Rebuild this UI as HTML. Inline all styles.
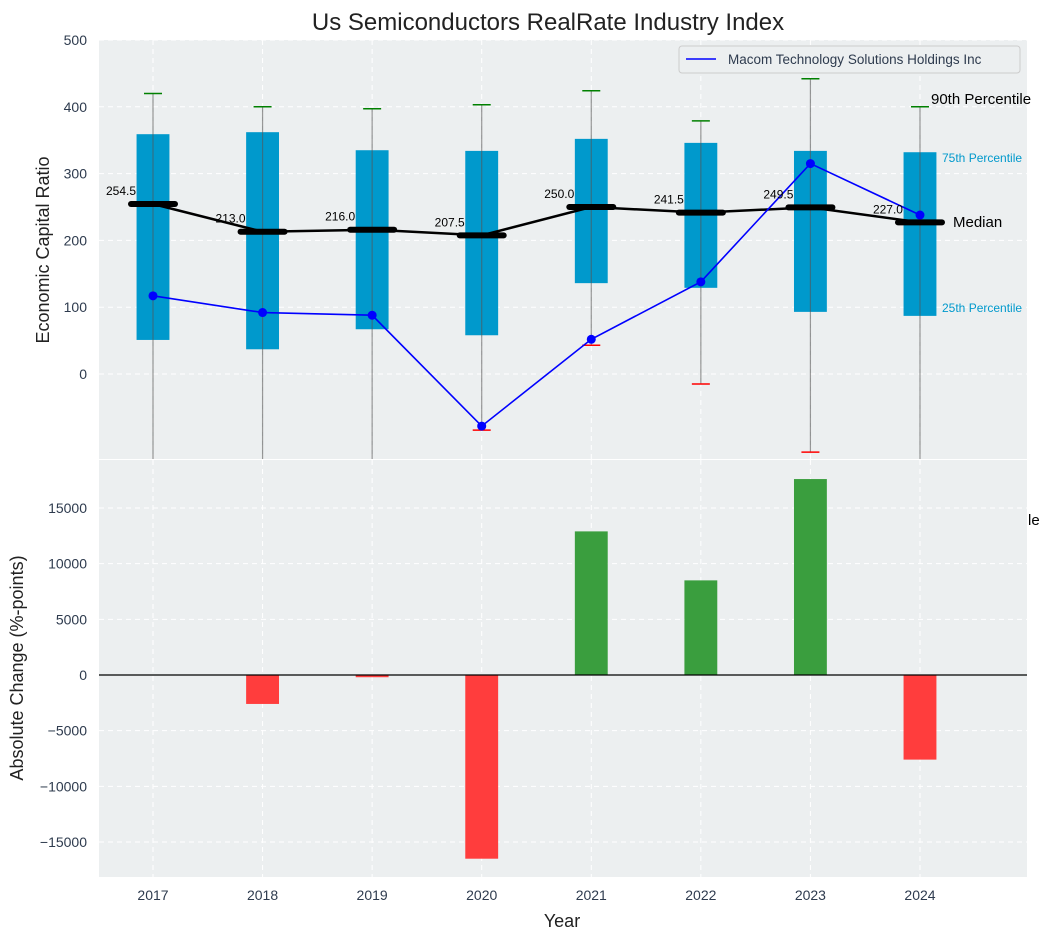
<!DOCTYPE html>
<html><head><meta charset="utf-8"><style>
body{margin:0;background:#fff;font-family:"Liberation Sans","DejaVu Sans",sans-serif}
</style></head><body>
<svg id="c" width="1051" height="940" xmlns="http://www.w3.org/2000/svg" font-family="Liberation Sans, DejaVu Sans, sans-serif"></svg>
<script>
const years=[2017,2018,2019,2020,2021,2022,2023,2024];
const q1=[51,37,67,58,136,129,93,87];
const q3=[359,362,335,334,352,346,334,332];
const medians=[254.5,213.0,216.0,207.5,250.0,241.5,249.5,227.0];
const p90=[420,400,397,403,424,379,442,400];
const p10=[-200,-200,-200,-84,43,-15,-117,-200];
const macom=[117,92,88,-78,52,138,315,238];
const changes=[0,-2600,-200,-16500,12900,8500,17600,-7600];
const topTicks=[0,100,200,300,400,500];
const botTicks=[-15000,-10000,-5000,0,5000,10000,15000];

const NS="http://www.w3.org/2000/svg";
const svg=document.getElementById('c');
function mk(t,a,txt){const e=document.createElementNS(NS,t);for(const k in a)e.setAttribute(k,a[k]);if(txt!==undefined)e.textContent=txt;svg.appendChild(e);return e;}
const L=99,R=1027;
const x=v=>153+(v-2017)*109.57;
const T0=40,T1=459; const yt=v=>374-v*0.668;
const B0=460,B1=877; const yb=v=>675-v*167/15000;
const pxw=x(2017.15)-x(2017);
const fmt=t=>t<0?'\u2212'+(-t):''+t;

let e;
e=mk('rect',{x:L,y:T0,width:R-L,height:T1-T0,fill:'#eceff0'});

e=mk('rect',{x:L,y:B0,width:R-L,height:B1-B0,fill:'#eceff0'});


topTicks.forEach(t=>{const y=yt(t);
 e=mk('line',{x1:L,x2:R,y1:y,y2:y,stroke:'#fff','stroke-dasharray':'5,4','stroke-width':1});
 
 e=mk('text',{x:87,y:y+5,'text-anchor':'end','font-size':14,fill:'#2e3b4e'},fmt(t));
 });
botTicks.forEach(t=>{const y=yb(t);
 e=mk('line',{x1:L,x2:R,y1:y,y2:y,stroke:'#fff','stroke-dasharray':'5,4','stroke-width':1});
 
 e=mk('text',{x:87,y:y+5,'text-anchor':'end','font-size':14,fill:'#2e3b4e'},fmt(t));
 });
years.forEach(yr=>{
 e=mk('line',{x1:x(yr),x2:x(yr),y1:T0,y2:T1,stroke:'#fff','stroke-dasharray':'5,4'});
 
 e=mk('line',{x1:x(yr),x2:x(yr),y1:B0,y2:B1,stroke:'#fff','stroke-dasharray':'5,4'});
 
 e=mk('text',{x:x(yr),y:900,'text-anchor':'middle','font-size':14,fill:'#2e3b4e'},yr);
 });

const defs=mk('defs',{});
const cp=document.createElementNS(NS,'clipPath');cp.setAttribute('id','ct');
const cr=document.createElementNS(NS,'rect');cr.setAttribute('x',L);cr.setAttribute('y',T0);cr.setAttribute('width',R-L);cr.setAttribute('height',T1-T0);
cp.appendChild(cr);defs.appendChild(cp);
const g=document.createElementNS(NS,'g');g.setAttribute('clip-path','url(#ct)');svg.appendChild(g);
function mg(t,a){const el=document.createElementNS(NS,t);for(const k in a)el.setAttribute(k,a[k]);g.appendChild(el);return el;}

years.forEach((yr,i)=>{const cx=x(yr);
 e=mg('rect',{x:cx-pxw,y:yt(q3[i]),width:2*pxw,height:yt(q1[i])-yt(q3[i]),fill:'#0099cc'});
 
 e=mg('line',{x1:cx,x2:cx,y1:yt(p90[i]),y2:yt(p10[i]),stroke:'#555','stroke-opacity':0.6,'stroke-width':1.2});
 
 e=mg('line',{x1:cx-9,x2:cx+9,y1:yt(p90[i]),y2:yt(p90[i]),stroke:'green','stroke-width':1.5});
 
 e=mg('line',{x1:cx-9,x2:cx+9,y1:yt(p10[i]),y2:yt(p10[i]),stroke:'red','stroke-width':1.5});
 
});
e=mg('polyline',{points:years.map((yr,i)=>x(yr)+','+yt(medians[i])).join(' '),fill:'none',stroke:'#000','stroke-width':2.5});

years.forEach((yr,i)=>{const cx=x(yr),y=yt(medians[i]);
 e=mg('line',{x1:cx-22,x2:cx+22,y1:y,y2:y,stroke:'#000','stroke-width':6,'stroke-linecap':'round'});
 
 e=mk('text',{x:cx-17,y:y-9,'text-anchor':'end','font-size':12,fill:'#000'},medians[i].toFixed(1));
 
});
e=mg('polyline',{points:years.map((yr,i)=>x(yr)+','+yt(macom[i])).join(' '),fill:'none',stroke:'#0000ff','stroke-width':1.6});

years.forEach((yr,i)=>{e=mg('circle',{cx:x(yr),cy:yt(macom[i]),r:4.5,fill:'#0000ff'});
 });

e=mk('text',{x:931,y:104,'font-size':15,fill:'#000'},'90th Percentile');
e=mk('text',{x:942,y:162,'font-size':12,fill:'#0099cc'},'75th Percentile');
e=mk('text',{x:953,y:227,'font-size':15,fill:'#000'},'Median');
e=mk('text',{x:942,y:312,'font-size':12,fill:'#0099cc'},'25th Percentile');
e=mk('text',{x:1028,y:525,'font-size':15,fill:'#000'},'le');

e=mk('rect',{x:679,y:46,width:341,height:27,rx:3,fill:'#eceff0',stroke:'#ccc'});
e=mk('line',{x1:686,x2:716,y1:59,y2:59,stroke:'#0000ff','stroke-width':1.6});
e=mk('text',{x:728,y:64,'font-size':13.5,fill:'#2e3b4e'},'Macom Technology Solutions Holdings Inc');

years.forEach((yr,i)=>{const v=changes[i];if(!v)return;const cx=x(yr);
 const y0=yb(Math.max(v,0)),y1=yb(Math.min(v,0));
 e=mk('rect',{x:cx-pxw,y:y0,width:2*pxw,height:y1-y0,fill:v>0?'#3a9e3e':'#ff3d3d'});
 });
e=mk('line',{x1:L,x2:R,y1:yb(0),y2:yb(0),stroke:'#000','stroke-width':1.2});

e=mk('text',{x:548,y:30,'text-anchor':'middle','font-size':24,fill:'#222'},'Us Semiconductors RealRate Industry Index');
e=mk('text',{x:0,y:0,'text-anchor':'middle','font-size':18,fill:'#222',transform:'translate(49,250) rotate(-90)'},'Economic Capital Ratio');
e=mk('text',{x:0,y:0,'text-anchor':'middle','font-size':18,fill:'#222',transform:'translate(23,668) rotate(-90)'},'Absolute Change (%-points)');
e=mk('text',{x:562,y:927,'text-anchor':'middle','font-size':18,fill:'#222'},'Year');
</script>
</body></html>
